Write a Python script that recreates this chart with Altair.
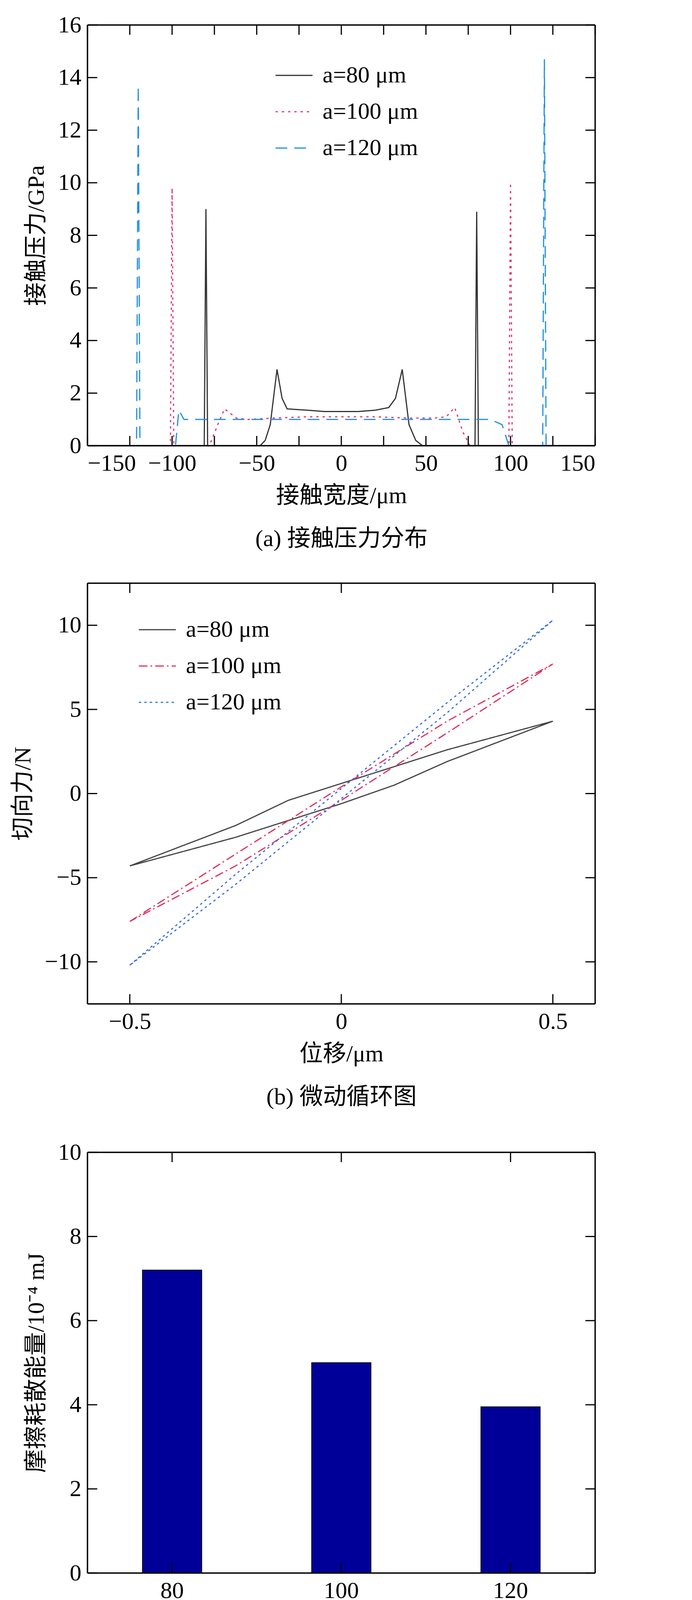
import altair as alt
import pandas as pd

FONT = "Liberation Serif, Noto Sans CJK SC"
W, H = 1300, 1077

# (a) contact pressure
x80 = [-150, -81, -80, -79, -48, -45, -42, -38, -35, -32, -20, -10, 0, 10, 20, 28, 32, 36, 40, 44, 48, 79, 80, 81, 150]
p80 = [0, 0, 9.0, 0, 0, 0.2, 0.8, 2.9, 1.8, 1.4, 1.35, 1.3, 1.3, 1.3, 1.35, 1.45, 1.8, 2.9, 0.8, 0.2, 0, 0, 8.9, 0, 0]
x100 = [-150, -101, -100, -99, -78, -73, -69, -62, -55, -40, -20, 0, 20, 40, 55, 62, 67, 72, 76, 99, 100, 101, 150]
p100 = [0, 0, 9.8, 0, 0, 0.8, 1.4, 1.05, 1.0, 1.05, 1.1, 1.1, 1.1, 1.05, 1.05, 1.1, 1.45, 0.5, 0, 0, 10.0, 0, 0]
x120 = [-150, -121, -120, -119, -98, -96, -93, -60, 0, 60, 88, 95, 98, 99, 119, 120, 121, 150]
p120 = [0, 0, 13.7, 0, 0, 1.35, 1.0, 1.0, 1.0, 1.0, 1.0, 0.8, 0.2, 0, 0, 14.7, 0, 0]

# (b) fretting loops
d80 = [-0.5, -0.25, -0.125, 0, 0.125, 0.25, 0.5, 0.25, 0.125, 0, -0.125, -0.25, -0.5]
f80 = [-4.3, -1.9, -0.4, 0.6, 1.6, 2.6, 4.3, 1.9, 0.5, -0.6, -1.6, -2.6, -4.3]
d100 = [-0.5, -0.25, 0, 0.25, 0.5, 0.25, 0, -0.25, -0.5]
f100 = [-7.6, -3.6, 0.4, 4.3, 7.7, 3.6, -0.4, -4.3, -7.6]
d120 = [-0.5, -0.25, 0, 0.25, 0.5, 0.25, 0, -0.25, -0.5]
f120 = [-10.2, -4.8, 0.3, 5.4, 10.3, 4.8, -0.3, -5.4, -10.2]

# (c) dissipated energy
half_width = ["80", "100", "120"]
energy = [7.2, 5.0, 3.95]

labels = ["a=80 μm", "a=100 μm", "a=120 μm"]
FS = 60


def series(xs, ys, name):
    return pd.DataFrame({"x": xs, "y": ys, "s": name, "o": range(len(xs))})


def frame():
    one = pd.DataFrame({"k": [0]})
    sides = [dict(x=alt.value(0), x2=alt.value(W), y=alt.value(0)),
             dict(x=alt.value(0), x2=alt.value(W), y=alt.value(H)),
             dict(x=alt.value(0), y=alt.value(0), y2=alt.value(H)),
             dict(x=alt.value(W), y=alt.value(0), y2=alt.value(H))]
    return [alt.Chart(one).mark_rule(color="black", strokeWidth=3.5).encode(**s) for s in sides]


def ticks(xt, yt, xsc, ysc, tl=25):
    rx = pd.DataFrame({"t": xt})
    ry = pd.DataFrame({"t": yt})
    l = []
    for y0, y1 in [(H, H - tl), (0, tl)]:
        l.append(alt.Chart(rx).mark_rule(color="black", strokeWidth=3).encode(
            x=alt.X("t:Q", scale=xsc), y=alt.value(y0), y2=alt.value(y1)))
    for x0, x1 in [(0, tl), (W, W - tl)]:
        l.append(alt.Chart(ry).mark_rule(color="black", strokeWidth=3).encode(
            y=alt.Y("t:Q", scale=ysc), x=alt.value(x0), x2=alt.value(x1)))
    return l


def ax(title, values, fmt=None):
    kw = dict(title=title, values=values, ticks=False, labelPadding=16, titlePadding=24,
              labelFontSize=FS, titleFontSize=FS, labelFont=FONT, titleFont=FONT,
              labelColor="black", titleColor="black", titleFontWeight="normal",
              domain=False, grid=False, titleLineHeight=110, labelAngle=0)
    if fmt:
        kw["format"] = fmt
    return alt.Axis(**kw)


def legend(x, y):
    return alt.Legend(title=None, orient="none", legendX=x, legendY=y, labelFontSize=FS,
                      labelFont=FONT, labelColor="black", symbolSize=9000, symbolStrokeWidth=3,
                      symbolType="stroke", rowPadding=14, labelOffset=24, labelLimit=0)


# panel a
xs_a = alt.Scale(domain=[-150, 150], nice=False)
ys_a = alt.Scale(domain=[0, 16], nice=False)
da = pd.concat([series(x80, p80, labels[0]), series(x100, p100, labels[1]), series(x120, p120, labels[2])])
line_a = alt.Chart(da).mark_line(strokeWidth=3).encode(
    x=alt.X("x:Q", scale=xs_a, axis=ax(["接触宽度/μm", "(a) 接触压力分布"], [-150, -100, -50, 0, 50, 100, 150], "d")),
    y=alt.Y("y:Q", scale=ys_a, axis=ax("接触压力/GPa", list(range(0, 17, 2)), "d")),
    order="o:Q",
    color=alt.Color("s:N", scale=alt.Scale(domain=labels, range=["#333333", "#e8336e", "#1f8fe0"]), legend=legend(480, 80)),
    strokeDash=alt.StrokeDash("s:N", scale=alt.Scale(domain=labels, range=[[1, 0], [6, 10], [30, 18]]), legend=legend(480, 80)),
)
pa = alt.layer(line_a, *ticks(list(range(-150, 151, 25)), list(range(0, 17, 2)), xs_a, ys_a), *frame()).properties(width=W, height=H)

# panel b
xs_b = alt.Scale(domain=[-0.6, 0.6], nice=False)
ys_b = alt.Scale(domain=[-12.5, 12.5], nice=False)
db = pd.concat([series(d80, f80, labels[0]), series(d100, f100, labels[1]), series(d120, f120, labels[2])])
line_b = alt.Chart(db).mark_line(strokeWidth=3).encode(
    x=alt.X("x:Q", scale=xs_b, axis=ax(["位移/μm", "(b) 微动循环图"], [-0.5, 0, 0.5], "~g")),
    y=alt.Y("y:Q", scale=ys_b, axis=ax("切向力/N", [-10, -5, 0, 5, 10], "d")),
    order="o:Q",
    color=alt.Color("s:N", scale=alt.Scale(domain=labels, range=["#444444", "#e0305a", "#3a6fd8"]), legend=legend(130, 70)),
    strokeDash=alt.StrokeDash("s:N", scale=alt.Scale(domain=labels, range=[[1, 0], [22, 8, 4, 8], [6, 8]]), legend=legend(130, 70)),
)
pb = alt.layer(line_b, *ticks([-0.5, 0, 0.5], [-10, -5, 0, 5, 10], xs_b, ys_b), *frame()).properties(width=W, height=H)

# panel c
ys_c = alt.Scale(domain=[0, 10], nice=False)
dc = pd.DataFrame({"w": half_width, "e": energy})
bars = alt.Chart(dc).mark_bar(color="#000099", stroke="black", strokeWidth=2).encode(
    x=alt.X("w:N", sort=half_width, scale=alt.Scale(paddingInner=0.65, paddingOuter=0.325),
            axis=ax(["接触半宽/μm", "(c) 摩擦耗散能量"], half_width)),
    y=alt.Y("e:Q", scale=ys_c, axis=ax("摩擦耗散能量/10⁻⁴ mJ", list(range(0, 11, 2)), "d")),
)
rc = pd.DataFrame({"w": half_width})
ry = pd.DataFrame({"t": list(range(0, 11, 2))})
tick_c = [
    alt.Chart(rc).mark_rule(color="black", strokeWidth=3).encode(x=alt.X("w:N", sort=half_width), y=alt.value(H), y2=alt.value(H - 25)),
    alt.Chart(rc).mark_rule(color="black", strokeWidth=3).encode(x=alt.X("w:N", sort=half_width), y=alt.value(0), y2=alt.value(25)),
    alt.Chart(ry).mark_rule(color="black", strokeWidth=3).encode(y=alt.Y("t:Q", scale=ys_c), x=alt.value(0), x2=alt.value(25)),
    alt.Chart(ry).mark_rule(color="black", strokeWidth=3).encode(y=alt.Y("t:Q", scale=ys_c), x=alt.value(W), x2=alt.value(W - 25)),
]
pc = alt.layer(bars, *tick_c, *frame()).properties(width=W, height=H)

chart = alt.vconcat(pa, pb, pc, spacing=80).resolve_scale(color="independent", strokeDash="independent").properties(
    padding={"left": 20, "top": 25, "right": 20, "bottom": 5}
).configure_view(stroke=None).configure(background="white")

chart.save("out.html", embed_options={"renderer": "svg", "actions": False})
